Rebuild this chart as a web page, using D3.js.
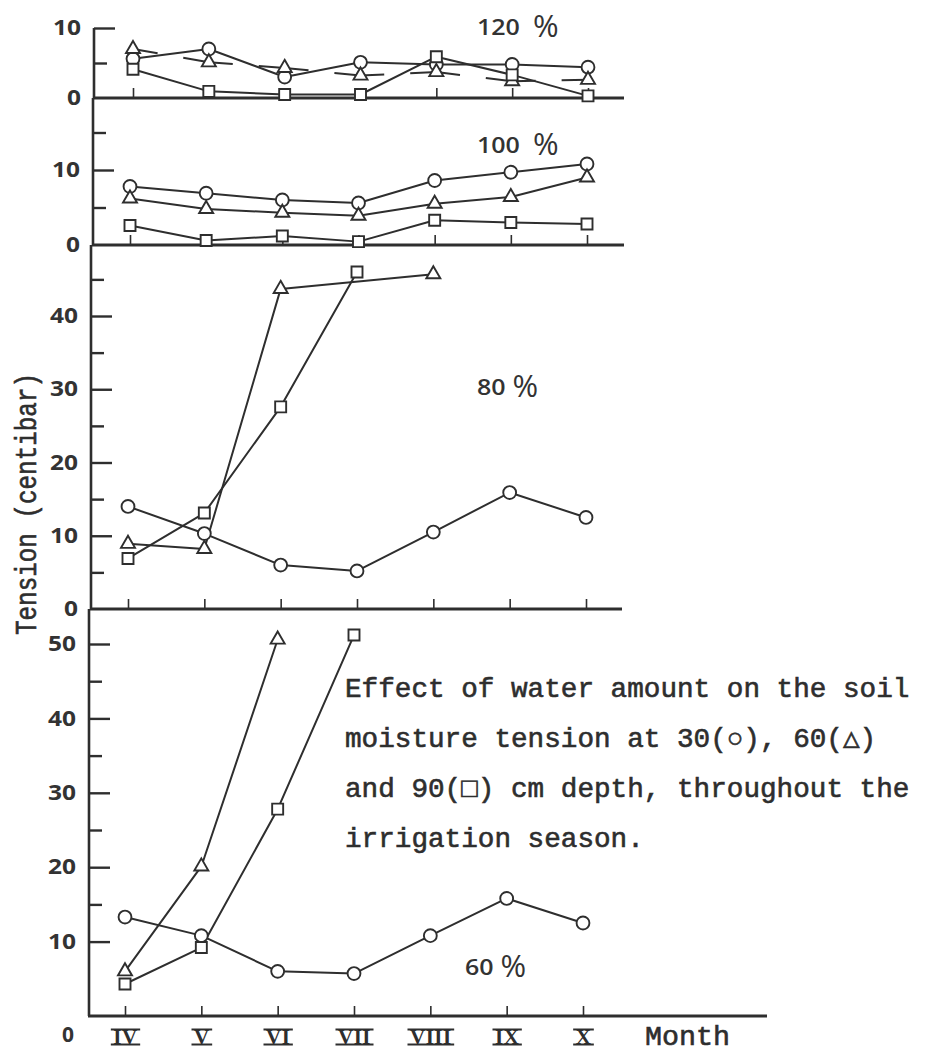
<!DOCTYPE html>
<html><head><meta charset="utf-8">
<script src="https://cdn.jsdelivr.net/npm/d3@7"></script>
<style>html,body{margin:0;padding:0;background:#fff;} svg{display:block}</style>
</head><body><svg id="c" width="926" height="1061"></svg>
<script>
// ---------------- data ----------------
const months = ["IV", "V", "VI", "VII", "VIII", "IX", "X"];
const treatments = ["120 %", "100 %", "80 %", "60 %"];
const depths = ["30", "60", "90"]; // circle, triangle, square

// 120 % water amount
const t120_30 = [5.6, 7.0, 3.0, 5.1, 4.8, 4.8, 4.4];
const t120_60 = [7.0, 5.1, 4.3, 3.2, 3.7, 2.4, 2.6];
const t120_90 = [4.1, 0.95, 0.5, 0.5, 5.9, 3.3, 0.3];
// 100 %
const t100_30 = [7.8, 6.9, 6.0, 5.6, 8.6, 9.7, 10.8];
const t100_60 = [6.2, 4.8, 4.3, 3.9, 5.5, 6.4, 9.0];
const t100_90 = [2.6, 0.6, 1.2, 0.45, 3.3, 3.0, 2.8];
// 80 %
const t80_30 = [14.0, 10.3, 6.0, 5.2, 10.5, 15.9, 12.5];
const t80_60 = [8.9, 8.2, 43.7, null, 45.7, null, null];
const t80_90 = [6.9, 13.1, 27.6, 46.0, null, null, null];
// 60 %
const t60_30 = [13.3, 10.8, 6.0, 5.7, 10.8, 15.8, 12.5];
const t60_60 = [6.0, 20.1, 50.6, null, null, null, null];
const t60_90 = [4.3, 9.2, 27.8, 51.2, null, null, null];

// tick values
const major120 = [0, 10], minor120 = [5];
const major100 = [0, 10], minor100 = [5, 15];
const major80 = [0, 10, 20, 30, 40], minor80 = [5, 15, 25, 35, 45];
const major60 = [0, 10, 20, 30, 40, 50], minor60 = [15, 25, 35, 45];

const yTitle = "Tension (centibar)";
const xTitle = "Month";
const caption = [
  "Effect of water amount on the soil",
  "moisture tension at 30(\u25CB), 60(\u25B3)",
  "and 90(\u25A1) cm depth, throughout the",
  "irrigation season."
];

// ---------------- layout ----------------
const INK = "#2e2e2e";
const MONO = "'Liberation Mono', 'DejaVu Sans Mono', monospace";
const SANS = "'Open Sans', 'Liberation Sans', sans-serif";
const svg = d3.select("#c");
svg.append("rect").attr("width", 926).attr("height", 1061).attr("fill", "#fff");

const panels = [
  {name: treatments[0], series: [t120_30, t120_60, t120_90], dom: [0, 10], rng: [98, 28], top: 28,
   ax: 94, xr: [133, 588], xend: 624, major: major120, minor: minor120, lab: [477, 35], gap: 13, dashTri: true},
  {name: treatments[1], series: [t100_30, t100_60, t100_90], dom: [0, 10], rng: [245, 170], top: 98,
   ax: 93, xr: [130, 587], xend: 624, major: major100, minor: minor100, lab: [477, 153], gap: 13},
  {name: treatments[2], series: [t80_30, t80_60, t80_90], dom: [0, 40], rng: [609, 316], top: 245,
   ax: 91, xr: [128, 586], xend: 622, major: major80, minor: minor80, lab: [477, 395], gap: 7},
  {name: treatments[3], series: [t60_30, t60_60, t60_90], dom: [0, 50], rng: [1016, 644], top: 609,
   ax: 89, xr: [125, 583], xend: 767, major: major60, minor: minor60, lab: [465, 975], gap: 7, bottom: true}
];

const symTypes = [d3.symbolCircle, d3.symbolTriangle, d3.symbolSquare];
const symSizes = [130, 85, 121];

panels.forEach(p => {
  const y = d3.scaleLinear().domain(p.dom).range(p.rng);
  const x = d3.scalePoint().domain(months).range(p.xr);
  const g = svg.append("g");

  // vertical axis line
  g.append("line").attr("x1", p.ax).attr("x2", p.ax).attr("y1", p.top).attr("y2", y(0))
    .attr("stroke", INK).attr("stroke-width", 2.6);
  // horizontal axis line
  g.append("line").attr("x1", p.ax - 1).attr("x2", p.xend).attr("y1", y(0)).attr("y2", y(0))
    .attr("stroke", INK).attr("stroke-width", 2.8);

  // major ticks + labels
  const ya = g.append("g").attr("transform", `translate(${p.ax},0)`)
    .call(d3.axisLeft(y).tickValues(p.major).tickSize(-21).tickSizeOuter(0).tickPadding(13).tickFormat(d3.format("d")));
  ya.select(".domain").remove();
  ya.selectAll(".tick line").attr("stroke", INK).attr("stroke-width", 2.4)
    .filter(d => d === 0).remove();
  ya.selectAll(".tick text").attr("fill", "#333").attr("font-family", SANS)
    .attr("font-weight", 700).attr("font-size", 21)
    .attr("textLength", d => String(d).length * 14).attr("lengthAdjust", "spacingAndGlyphs")
    .filter(d => d === 0 && p.bottom).attr("dy", "1.2em").attr("x", -15).attr("textLength", 12);

  // minor ticks
  const ym = g.append("g").attr("transform", `translate(${p.ax},0)`)
    .call(d3.axisLeft(y).tickValues(p.minor).tickSize(-13).tickSizeOuter(0).tickFormat(""));
  ym.select(".domain").remove();
  ym.selectAll(".tick line").attr("stroke", INK).attr("stroke-width", 2.4);

  // month ticks
  const xa = g.append("g").attr("transform", `translate(0,${y(0)})`)
    .call(d3.axisBottom(x).tickSize(-10).tickSizeOuter(0).tickPadding(13).tickFormat(p.bottom ? (d => d) : ""));
  xa.select(".domain").remove();
  xa.selectAll(".tick line").attr("stroke", INK).attr("stroke-width", 1.6);
  if (p.bottom) {
    xa.selectAll(".tick text").attr("fill", INK)
      .attr("font-family", "'Liberation Serif', 'DejaVu Serif', serif").attr("font-weight", 700)
      .attr("font-size", 21).attr("y", 28).attr("dy", 0).attr("letter-spacing", 0.5);
    xa.selectAll(".tick").each(function () {
      const t = d3.select(this).select("text");
      const bb = t.node().getBBox();
      const w = bb.width + 5;
      const tk = d3.select(this);
      [13.5, 28.5].forEach(yy => {
        tk.append("line").attr("x1", -w / 2).attr("x2", w / 2).attr("y1", yy).attr("y2", yy)
          .attr("stroke", INK).attr("stroke-width", 2);
      });
    });
  }

  // series lines
  p.series.forEach((s, si) => {
    const pts = s.map((v, i) => ({m: months[i], v})).filter(d => d.v != null);
    const line = d3.line().x(d => x(d.m)).y(d => y(d.v));
    const path = g.append("path").datum(pts).attr("d", line).attr("fill", "none")
      .attr("stroke", INK).attr("stroke-width", 2).attr("stroke-linejoin", "round");
    if (p.dashTri && si === 1) path.attr("stroke-dasharray", "50,26").attr("stroke-dashoffset", 25);
  });
  // markers
  p.series.forEach((s, si) => {
    const pts = s.map((v, i) => ({m: months[i], v})).filter(d => d.v != null);
    g.selectAll(null).data(pts).enter().append("path")
      .attr("d", d3.symbol().type(symTypes[si]).size(symSizes[si]))
      .attr("transform", d => `translate(${x(d.m)},${y(d.v)})`)
      .attr("fill", "#fff").attr("stroke", INK).attr("stroke-width", 1.9);
  });

  // treatment label
  const parts = p.name.split(" ");
  const nW = parts[0].length * 14.3;
  g.append("text").attr("x", p.lab[0]).attr("y", p.lab[1]).attr("fill", "#333")
    .attr("font-family", SANS).attr("font-weight", 600).attr("font-size", 22)
    .attr("textLength", nW).attr("lengthAdjust", "spacingAndGlyphs").text(parts[0]);
  g.append("text").attr("x", p.lab[0] + nW + p.gap).attr("y", p.lab[1] + 2).attr("fill", "#333")
    .attr("font-family", SANS).attr("font-weight", 400).attr("font-size", 31).text(parts[1]);
});

// y title
svg.append("text").attr("transform", "translate(36,504) rotate(-90)").attr("text-anchor", "middle")
  .attr("font-family", MONO).attr("font-size", 30)
  .attr("fill", INK).attr("stroke", INK).attr("stroke-width", 0.6)
  .attr("textLength", 262).attr("lengthAdjust", "spacingAndGlyphs").text(yTitle);

// x title
svg.append("text").attr("x", 645).attr("y", 1045)
  .attr("font-family", MONO).attr("font-size", 27.5)
  .attr("fill", INK).attr("stroke", INK).attr("stroke-width", 0.6)
  .attr("textLength", 85).attr("lengthAdjust", "spacingAndGlyphs").text(xTitle);

// caption
caption.forEach((ln, i) => {
  svg.append("text").attr("x", 345).attr("y", 697 + i * 50)
    .attr("font-family", MONO).attr("font-size", 27.5)
    .attr("fill", INK).attr("stroke", INK).attr("stroke-width", 0.6)
    .attr("textLength", ln.length * 16.6).attr("lengthAdjust", "spacingAndGlyphs").text(ln);
});
</script></body></html>
